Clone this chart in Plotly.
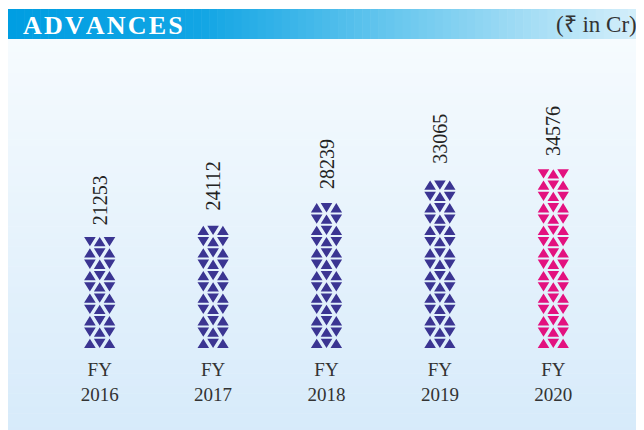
import plotly.graph_objects as go

# ---- data ----
years = ["FY<br>2016", "FY<br>2017", "FY<br>2018", "FY<br>2019", "FY<br>2020"]
advances = [21253, 24112, 28239, 33065, 34576]
bar_colors = ["#3b3592", "#3b3592", "#3b3592", "#3b3592", "#e3117f"]

W, H = 644, 430
OFF = 8                      # page body margin (screen px)
# plot area in screen px
PL, PR, PT, PB = 43, 610, 60, 349
ML, MR, MT, MB = PL - OFF, W - (PR - OFF), PT - OFF, H - (PB - OFF)
PW, PH = PR - PL, PB - PT
YMAX = 55500
NCAT = len(years)


def xp(sx):
    return (sx - PL) / PW


def yp(sy):
    return (PB - sy) / PH


def lerp_color(stops, t):
    for i in range(len(stops) - 1):
        t0, c0 = stops[i]
        t1, c1 = stops[i + 1]
        if t0 <= t <= t1:
            f = (t - t0) / (t1 - t0) if t1 > t0 else 0
            a = [int(c0[k:k + 2], 16) for k in (1, 3, 5)]
            b = [int(c1[k:k + 2], 16) for k in (1, 3, 5)]
            return "rgb(%d,%d,%d)" % tuple(round(a[j] + (b[j] - a[j]) * f) for j in range(3))
    return stops[-1][1]


shapes = []
bg_stops = [(0, "#f6fbfe"), (1, "#d6eafa")]
N = 60
y_top, y_bot = 39, 440
for i in range(N):
    a = y_top + (y_bot - y_top) * i / N
    b = y_top + (y_bot - y_top) * (i + 1) / N + 0.6
    shapes.append(dict(type="rect", xref="paper", yref="paper", layer="below",
                       x0=xp(8), x1=xp(660), y0=yp(b), y1=yp(a), line_width=0,
                       fillcolor=lerp_color(bg_stops, (i + 0.5) / N)))
hd_stops = [(0, "#009ee2"), (0.3, "#12a5e4"), (0.6, "#68c7ee"), (1, "#dbf1fb")]
N = 80
for i in range(N):
    a = 8 + (652 - 8) * i / N
    b = 8 + (652 - 8) * (i + 1) / N + 0.6
    shapes.append(dict(type="rect", xref="paper", yref="paper", layer="below",
                       x0=xp(a), x1=xp(b), y0=yp(39), y1=yp(9), line_width=0,
                       fillcolor=lerp_color(hd_stops, (i + 0.5) / N)))

# triangle mosaic geometry (px), converted to data units through the axis scales
ppx = PW / NCAT           # px per x unit
ppy = PH / YMAX           # px per y unit
pitch, tri_h, tri_b, step = 11.3, 9.3, 11.6, 9.8

fig = go.Figure()
for i, (v, col) in enumerate(zip(advances, bar_colors)):
    nrows = round(v * ppy / pitch)
    xs, ys = [], []
    for k in range(nrows):
        yb = (k * pitch + 1.0) / ppy
        yt = (k * pitch + 1.0 + tri_h) / ppy
        for j in (-1, 0, 1):
            cx = i + j * step / ppx
            hb = tri_b / 2 / ppx
            up = (k % 2 == 0) != (j == 0)
            if up:
                xs += [cx - hb, cx + hb, cx, cx - hb, None]
                ys += [yb, yb, yt, yb, None]
            else:
                xs += [cx - hb, cx + hb, cx, cx - hb, None]
                ys += [yt, yt, yb, yt, None]
    fig.add_trace(go.Scatter(x=xs, y=ys, mode="lines", fill="toself", fillcolor=col,
                             line=dict(width=0, color=col), hoverinfo="skip"))

fig.add_trace(go.Bar(
    x=list(range(NCAT)), y=advances, width=0.26,
    marker=dict(color="rgba(0,0,0,0)", line_width=0),
    text=["\u2002" + str(v) for v in advances],
    textposition="outside", textangle=-90, constraintext="none",
    textfont=dict(family="Liberation Serif", size=20, color="#222222"),
    cliponaxis=False,
))

fig.update_layout(
    width=W, height=H,
    margin=dict(l=ML, r=MR, t=MT, b=MB),
    paper_bgcolor="white", plot_bgcolor="rgba(0,0,0,0)",
    showlegend=False,
    shapes=shapes,
    xaxis=dict(range=[-0.5, NCAT - 0.5], tickvals=list(range(NCAT)), ticktext=years,
               showgrid=False, zeroline=False, showline=False, ticks="",
               ticklabelstandoff=7,
               tickfont=dict(family="Liberation Serif", size=19, color="#333333")),
    yaxis=dict(visible=False, range=[0, YMAX]),
    annotations=[
        dict(text="\u200a".join("ADVANCES"), xref="paper", yref="paper",
             x=xp(21), y=yp(26), xanchor="left", yanchor="middle", showarrow=False,
             font=dict(family="Liberation Serif", size=26, color="white", weight="bold")),
        dict(text="(₹ in Cr)", xref="paper", yref="paper",
             x=xp(639), y=yp(24), xanchor="right", yanchor="middle", showarrow=False,
             font=dict(family="Liberation Serif", size=23, color="#333333")),
    ],
)

fig.write_html("out.html")
